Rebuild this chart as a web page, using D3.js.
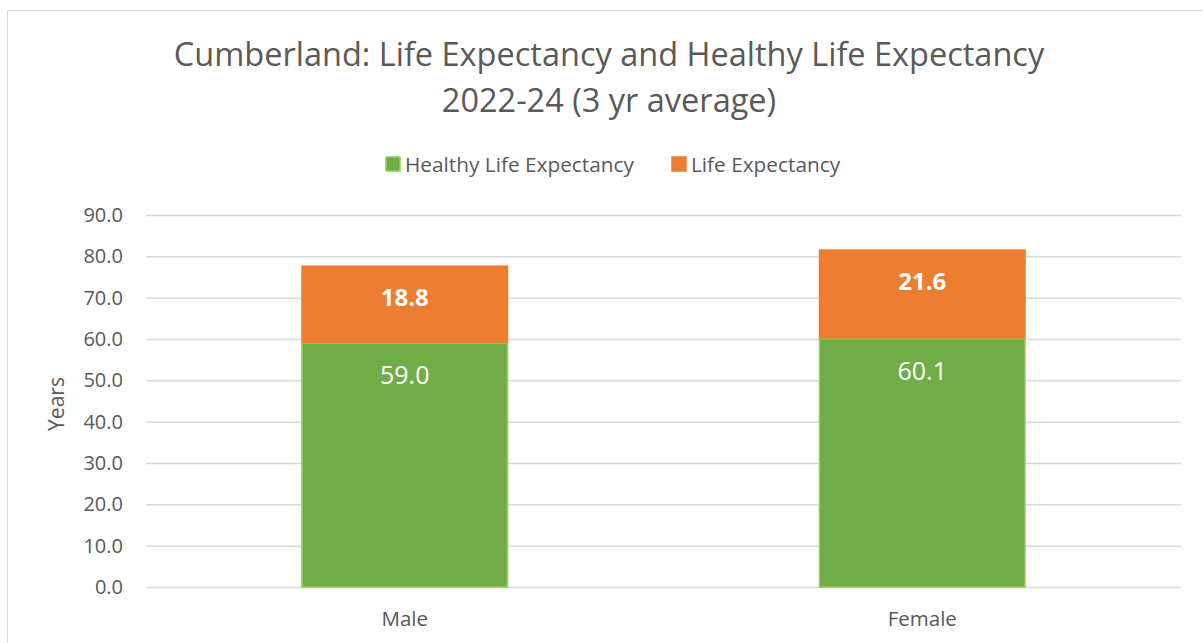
<!DOCTYPE html>
<html>
<head>
<meta charset="utf-8">
<script src="https://cdn.jsdelivr.net/npm/d3@7"></script>
<style>
  body { margin: 0; background: #fff; }
  text { font-family: "Open Sans", sans-serif; }
</style>
</head>
<body>
<svg width="1203" height="643"></svg>
<script>
// data
var categories = ["Male", "Female"];
var seriesNames = ["Healthy Life Expectancy", "Life Expectancy"];
var healthyLE = [59.0, 60.1];
var extraLE = [18.8, 21.6];          // gap between healthy LE and LE
var yTicks = [0, 10, 20, 30, 40, 50, 60, 70, 80, 90];
var titleLines = ["Cumberland: Life Expectancy and Healthy Life Expectancy", "2022-24 (3 yr average)"];

var colors = { healthy: "#70ad47", healthyEdge: "#92d050", le: "#ed7d31", text: "#595959", grid: "#d9d9d9" };

var svg = d3.select("svg");
var marge = { top: 215, bottom: 56, left: 146, right: 22 };
var width = +svg.attr("width");
var height = +svg.attr("height");

// chart frame
svg.append("rect")
    .attr("x", 7.5).attr("y", 10.5)
    .attr("width", width + 20).attr("height", height + 20)
    .attr("fill", "none")
    .attr("stroke", colors.grid);

var x = d3.scaleBand()
    .domain(categories)
    .range([marge.left, width - marge.right])
    .paddingInner(0.6)
    .paddingOuter(0.3);

var y = d3.scaleLinear()
    .domain([0, 90])
    .range([height - marge.bottom, marge.top]);

// title
svg.append("text")
    .attr("x", 609).attr("y", 66)
    .attr("text-anchor", "middle")
    .attr("fill", colors.text)
    .style("font-size", "32.5px")
    .selectAll("tspan")
    .data(titleLines)
    .enter().append("tspan")
    .attr("x", 609)
    .attr("dy", function (d, i) { return i === 0 ? 0 : 46; })
    .text(function (d) { return d; });

// gridlines + y axis
var yAxis = svg.append("g")
    .attr("transform", "translate(" + marge.left + ",0)")
    .call(d3.axisLeft(y).tickValues(yTicks).tickFormat(d3.format(".1f"))
        .tickSize(-(width - marge.left - marge.right)).tickPadding(23));
yAxis.select(".domain").remove();
yAxis.selectAll("line").attr("stroke", colors.grid).attr("stroke-width", 1.5);
yAxis.selectAll("text").attr("fill", colors.text).style("font-size", "20px");

svg.append("text")
    .attr("transform", "translate(64,404) rotate(-90)")
    .attr("text-anchor", "middle")
    .attr("fill", colors.text)
    .style("font-size", "21px")
    .text("Years");

// x labels
svg.append("g")
    .selectAll("text")
    .data(categories)
    .enter().append("text")
    .attr("x", function (d) { return x(d) + x.bandwidth() / 2; })
    .attr("y", height - marge.bottom + 39)
    .attr("text-anchor", "middle")
    .attr("fill", colors.text)
    .style("font-size", "20.5px")
    .text(function (d) { return d; });

// bars
var bars = svg.append("g");
bars.selectAll("rect.healthy")
    .data(categories)
    .enter().append("rect")
    .attr("class", "healthy")
    .attr("x", function (d) { return x(d) + 0.75; })
    .attr("y", function (d, i) { return y(healthyLE[i]); })
    .attr("width", x.bandwidth() - 1.5)
    .attr("height", function (d, i) { return y(0) - y(healthyLE[i]); })
    .attr("fill", colors.healthy)
    .attr("stroke", colors.healthyEdge)
    .attr("stroke-width", 1.5);

bars.selectAll("rect.le")
    .data(categories)
    .enter().append("rect")
    .attr("class", "le")
    .attr("x", function (d) { return x(d); })
    .attr("y", function (d, i) { return y(healthyLE[i] + extraLE[i]); })
    .attr("width", x.bandwidth())
    .attr("height", function (d, i) { return y(healthyLE[i]) - y(healthyLE[i] + extraLE[i]); })
    .attr("fill", colors.le);

// data labels (inside end)
bars.selectAll("text.hl")
    .data(categories)
    .enter().append("text")
    .attr("x", function (d) { return x(d) + x.bandwidth() / 2; })
    .attr("y", function (d, i) { return y(healthyLE[i]) + 41; })
    .attr("text-anchor", "middle")
    .attr("fill", "#fff")
    .style("font-size", "25px")
    .text(function (d, i) { return healthyLE[i].toFixed(1); });

bars.selectAll("text.lel")
    .data(categories)
    .enter().append("text")
    .attr("x", function (d) { return x(d) + x.bandwidth() / 2; })
    .attr("y", function (d, i) { return y(healthyLE[i] + extraLE[i]) + 41; })
    .attr("text-anchor", "middle")
    .attr("fill", "#fff")
    .style("font-size", "24px")
    .style("font-weight", "bold")
    .text(function (d, i) { return extraLE[i].toFixed(1); });

// legend
var legend = svg.append("g");
var legendItems = [
    { name: seriesNames[0], fill: colors.healthy, edge: colors.healthyEdge, x: 386 },
    { name: seriesNames[1], fill: colors.le, edge: colors.le, x: 672 }
];
legend.selectAll("rect")
    .data(legendItems)
    .enter().append("rect")
    .attr("x", function (d) { return d.x; })
    .attr("y", 157)
    .attr("width", 14).attr("height", 14)
    .attr("fill", function (d) { return d.fill; })
    .attr("stroke", function (d) { return d.edge; })
    .attr("stroke-width", 1.5);
legend.selectAll("text")
    .data(legendItems)
    .enter().append("text")
    .attr("x", function (d) { return d.x + 19; })
    .attr("y", 172)
    .attr("fill", colors.text)
    .style("font-size", "20.8px")
    .text(function (d) { return d.name; });
</script>
</body>
</html>
